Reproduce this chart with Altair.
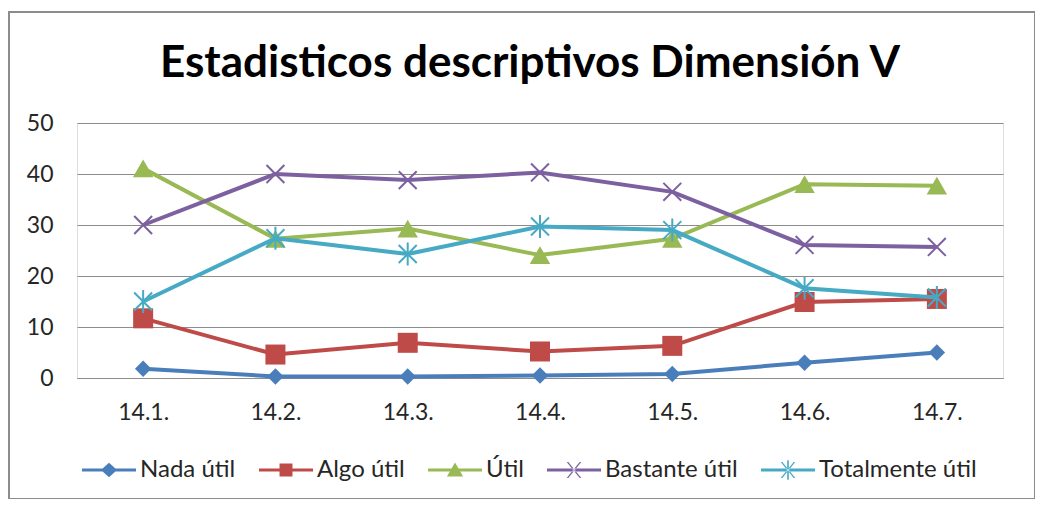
import altair as alt
import pandas as pd

titulo = "Estadisticos descriptivos Dimensión V"
categorias = ["14.1.", "14.2.", "14.3.", "14.4.", "14.5.", "14.6.", "14.7."]
series = ["Nada útil", "Algo útil", "Útil", "Bastante útil", "Totalmente útil"]
nada_util = [1.8, 0.3, 0.3, 0.5, 0.8, 3.0, 5.0]
algo_util = [11.7, 4.6, 6.9, 5.2, 6.3, 14.9, 15.5]
util = [41.1, 27.3, 29.3, 24.1, 27.3, 38.0, 37.7]
bastante_util = [30.0, 40.0, 38.8, 40.3, 36.5, 26.1, 25.7]
totalmente_util = [15.0, 27.4, 24.3, 29.7, 29.0, 17.6, 15.8]

valores = [nada_util, algo_util, util, bastante_util, totalmente_util]
colores = ["#4A7EBB", "#BE4B48", "#98B954", "#7D60A0", "#46AAC5"]

rows = []
for s, vals in zip(series, valores):
    for c, v in zip(categorias, vals):
        rows.append({"Categoria": c, "Serie": s, "Valor": v})
df = pd.DataFrame(rows)

FONT = "Lato"
FS = 23

x_enc = alt.X("Categoria:N", sort=categorias,
              scale=alt.Scale(type="point", padding=0.5),
              axis=alt.Axis(title=None, labelAngle=0, labelFontSize=FS, labelColor="#262626",
                            labelPadding=23, ticks=False, domain=True, domainColor="#8c8c8c",
                            domainWidth=1, grid=False, labelFont=FONT))
y_enc = alt.Y("Valor:Q", scale=alt.Scale(domain=[0, 50], nice=False),
              axis=alt.Axis(title=None, values=[0, 10, 20, 30, 40, 50], labelFontSize=FS,
                            labelColor="#262626", labelPadding=24, ticks=False, domain=False,
                            grid=True, gridColor="#8c8c8c", gridWidth=1, labelFont=FONT))

# marker definitions per series
marker_shape = [
    "diamond",
    "square",
    "triangle-up",
    "M-1,-1L1,1M-1,1L1,-1",
    "M-0.9,-0.9L0.9,0.9M-0.9,0.9L0.9,-0.9M0,-1.15L0,1.15",
]
marker_size = [270, 400, 420, 320, 400]
marker_filled = [True, True, True, False, False]

BAR = "M-1,-0.06L1,-0.06L1,0.06L-1,0.06Z"
legend_paths = [
    BAR + "M0,-0.27L0.3,0L0,0.27L-0.3,0Z",
    BAR + "M-0.24,-0.24L0.24,-0.24L0.24,0.24L-0.24,0.24Z",
    BAR + "M0,-0.28L0.3,0.24L-0.3,0.24Z",
    BAR + "M-0.27,-0.3L0.21,0.3L0.27,0.3L-0.21,-0.3Z M0.21,-0.3L-0.27,0.3L-0.21,0.3L0.27,-0.3Z",
    BAR + "M-0.27,-0.3L0.21,0.3L0.27,0.3L-0.21,-0.3Z M0.21,-0.3L-0.27,0.3L-0.21,0.3L0.27,-0.3Z"
          "M-0.03,-0.36L0.03,-0.36L0.03,0.36L-0.03,0.36Z",
]

layers = []
for i, s in enumerate(series):
    base = alt.Chart(df).transform_filter(alt.datum.Serie == s)
    line = base.mark_line(strokeWidth=4, color=colores[i]).encode(x=x_enc, y=y_enc)
    if marker_filled[i]:
        pts = base.mark_point(shape=marker_shape[i], size=marker_size[i], filled=True,
                              color=colores[i], opacity=1, strokeWidth=0)
    else:
        pts = base.mark_point(shape=marker_shape[i], size=marker_size[i], filled=False,
                              color=colores[i], opacity=1, strokeWidth=2)
    layers.append(line)
    layers.append(pts.encode(x=x_enc, y=y_enc))

# legend-only layer: no rows survive the filter, the scales carry explicit domains
legend_layer = alt.Chart(df).transform_filter("datum.Valor < -1000").mark_point(
    filled=True, opacity=1, strokeWidth=0
).encode(
    x=x_enc, y=y_enc,
    color=alt.Color("Serie:N", sort=series,
                    scale=alt.Scale(domain=series, range=colores),
                    legend=alt.Legend(title=None, orient="none", direction="horizontal",
                                      legendX=5, legendY=320, columns=5,
                                      symbolSize=2916, symbolStrokeWidth=0, symbolOpacity=1,
                                      labelFontSize=24, labelFont=FONT, labelColor="#262626",
                                      labelOffset=4, columnPadding=23, padding=0,
                                      labelLimit=300)),
    shape=alt.Shape("Serie:N", sort=series, scale=alt.Scale(domain=series, range=legend_paths),
                    legend=alt.Legend(title=None)),
)

title_layer = alt.Chart(alt.Data(values=[{"t": titulo}])).mark_text(
    font=FONT, fontSize=44, fontWeight="bold", color="#000000",
    align="center", baseline="alphabetic"
).encode(text=alt.Text("t:N"), x=alt.value(453), y=alt.value(-46))

frame = alt.Chart(alt.Data(values=[{"f": 1}])).mark_rect(
    fill=None, stroke="#8c8c8c", strokeWidth=2, clip=False
).encode(x=alt.value(-68), x2=alt.value(958), y=alt.value(-111), y2=alt.value(376))

chart = alt.layer(frame, title_layer, *layers, legend_layer).properties(
    width=926, height=255,
    autosize=alt.AutoSizeParams(type="none"),
    padding={"left": 69, "top": 115, "right": 32, "bottom": 121},
).configure_view(stroke=None).configure(font=FONT, background="white")

chart.save("out.html", embed_options={"renderer": "svg", "actions": False})
